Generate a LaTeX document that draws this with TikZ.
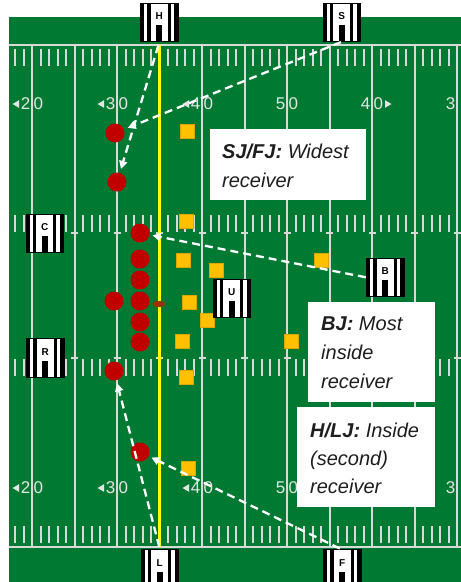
\documentclass[tikz,border=0pt]{standalone}
\usepackage{fontspec}
\setmainfont{Liberation Sans}
\usetikzlibrary{arrows.meta,calc,shapes.geometric}
\definecolor{field}{RGB}{0,122,51}
\definecolor{yl}{RGB}{217,217,217}
\definecolor{numc}{RGB}{228,228,228}
\definecolor{offred}{RGB}{192,0,0}
\definecolor{defyel}{RGB}{255,192,0}
\definecolor{defedge}{RGB}{225,165,0}
\definecolor{ballc}{RGB}{153,51,0}
\definecolor{txtc}{RGB}{30,30,30}
\definecolor{scrim}{RGB}{255,255,0}
\newcommand\offic[3]{%
  \node[offbox] (#1) at (#2) {};
  \fill[white] ($(#1.north west)+(3.5,0)$) rectangle ($(#1.south west)+(6.5,0)$);
  \fill[white] ($(#1.north west)+(10,0)$) rectangle ($(#1.south west)+(27,0)$);
  \fill[white] ($(#1.north west)+(30,0)$) rectangle ($(#1.south west)+(33.5,0)$);
  \fill[black] ($(#1.north west)+(15.5,22)$) rectangle ($(#1.south west)+(21.5,0)$);
  \draw[black,line width=0.9pt] (#1.north west) rectangle (#1.south east);
  \node[offlet] (#1let) at ($(#1.north west)+(18.5,13)$) {#3};
}
\newcommand\ynum[5]{% name, x, y, left digit, right digit
  \node[numf,anchor=east] (#1a) at ($(#2,#3)+(-1.5,0)$) {#4};
  \node[numf,anchor=west] (#1b) at ($(#2,#3)+(1.5,0)$) {#5};
}
\tikzset{
  offbox/.style={rectangle,fill=black,minimum width=37pt,minimum height=38pt,inner sep=0pt},
  offlet/.style={font=\fontsize{10}{10}\selectfont\bfseries,text=black,inner sep=0pt},
  yard/.style={draw=yl,line width=2pt},
  tick/.style={draw=yl,line width=2pt},
  numf/.style={font=\fontsize{17}{17}\selectfont,text=numc,inner sep=0pt},
  off/.style={circle,fill=offred,minimum size=19pt,inner sep=0pt},
  def/.style={rectangle,fill=defyel,draw=defedge,line width=0.4pt,minimum size=14pt,inner sep=0pt},
  ballst/.style={ellipse,fill=ballc,minimum width=13pt,minimum height=6pt,inner sep=0pt},
  txtbox/.style={rectangle,fill=white,inner sep=0pt,anchor=north west},
  txt/.style={font=\fontsize{20}{20}\selectfont\itshape,text=txtc,inner sep=0pt,anchor=base west},
  arr/.style={draw=white,line width=2.3pt,dash pattern=on 8pt off 5pt,-{Triangle[length=8pt,width=8pt]}}
}
\begin{document}
\begin{tikzpicture}[x=1pt,y=-1pt]
\useasboundingbox (0,0) rectangle (461,582);
\clip (0,0) rectangle (461,582);
% field
\fill[field] (9,17) rectangle (461,582);
\draw[yard] (9,45) -- (461,45);
\draw[yard] (9,547) -- (461,547);
\foreach \k in {0,...,10} {
  \pgfmathsetmacro\lx{32+42.5*\k}
  \draw[yard] (\lx,45) -- (\lx,547);
  \draw[tick] (\lx-3.5,233) -- (\lx+3.5,233);
  \draw[tick] (\lx-3.5,358) -- (\lx+3.5,358);
  \foreach \j in {1,...,4} {
    \pgfmathsetmacro\tx{\lx+8.5*\j}
    \foreach \ya/\yb in {49/66,215/232,359/376,526/543}
      \draw[tick] (\tx,\ya) -- (\tx,\yb);
  }
}
\foreach \tx in {15,23.5}
  \foreach \ya/\yb in {49/66,215/232,359/376,526/543}
    \draw[tick] (\tx,\ya) -- (\tx,\yb);
% yard numbers
\foreach \yy/\nm in {104/t,488/b} {
  \ynum{n20\nm}{32}{\yy}{2}{0}
  \ynum{n30\nm}{117}{\yy}{3}{0}
  \ynum{n40\nm}{202}{\yy}{4}{0}
  \ynum{n50\nm}{287}{\yy}{5}{0}
  \node[numf,anchor=east] (n30r\nm) at (455.5,\yy) {3};
  \foreach \lx in {32,117,202}
    \fill[numc] (\lx-19.5,\yy) -- (\lx-13,\yy-3.8) -- (\lx-13,\yy+3.8) -- cycle;
}
\ynum{n40rt}{372}{104}{4}{0}
\fill[numc] (391.5,104) -- (385,100.2) -- (385,107.8) -- cycle;
% line of scrimmage
\draw[scrim,line width=2.6pt] (159.5,45) -- (159.5,547);
% text boxes
\node[txtbox,minimum width=156pt,minimum height=71pt] (box1) at (210,129) {};
\node[txt] (box1a) at (222,158) {\bfseries SJ/FJ:\mdseries{} Widest};
\node[txt] (box1b) at (222,187) {receiver};
\node[txtbox,minimum width=127pt,minimum height=100pt] (box2) at (308,302) {};
\node[txt] (box2a) at (321,330) {\bfseries BJ:\mdseries{} Most};
\node[txt] (box2b) at (321,359) {inside};
\node[txt] (box2c) at (321,388) {receiver};
\node[txtbox,minimum width=138pt,minimum height=100pt] (box3) at (297,407) {};
\node[txt] (box3a) at (310,437) {\bfseries H/LJ:\mdseries{} Inside};
\node[txt] (box3b) at (310,465) {(second)};
\node[txt] (box3c) at (310,493) {receiver};
% defense
\foreach \n/\p in {d1/{187,131},d2/{186.5,221.5},d3/{183,260},d4/{216,270},d5/{189,302},
                   d6/{207,320},d7/{182,341},d8/{186,377},d9/{321,260},d10/{291,341},d11/{188,468}}
  \node[def] (\n) at (\p) {};
% ball
\node[ballst] (ball) at (159,304) {};
% offense
\foreach \n/\p in {o1/{115,133},o2/{117,182},o3/{140,233},o4/{140,259},o5/{140,280},o6/{140,301},
                   o7/{140,322},o8/{140,342},o9/{114,301},o10/{114,371},o11/{140,452}}
  \node[off] (\n) at (\p) {};
% officials
\offic{H}{159.5,22.5}{H}
\offic{S}{342,22.5}{S}
\offic{C}{45,233.5}{C}
\offic{R}{45.5,358}{R}
\offic{U}{232,298.5}{U}
\offic{B}{385.5,277.5}{B}
\offic{L}{160,569}{L}
\offic{F}{342.5,569}{F}
% assignments
\draw[arr,shorten <=4pt,shorten >=4pt] (H.south) -- (o2);
\draw[arr,shorten <=1pt,shorten >=4pt] (S.south) -- (o1);
\draw[arr,shorten <=1pt,shorten >=3pt] (B.west) -- (o3);
\draw[arr,shorten <=3pt,shorten >=3pt] (L.north) -- (o10);
\draw[arr,shorten <=3pt,shorten >=3pt] (F.north) -- (o11);
\end{tikzpicture}
\end{document}
